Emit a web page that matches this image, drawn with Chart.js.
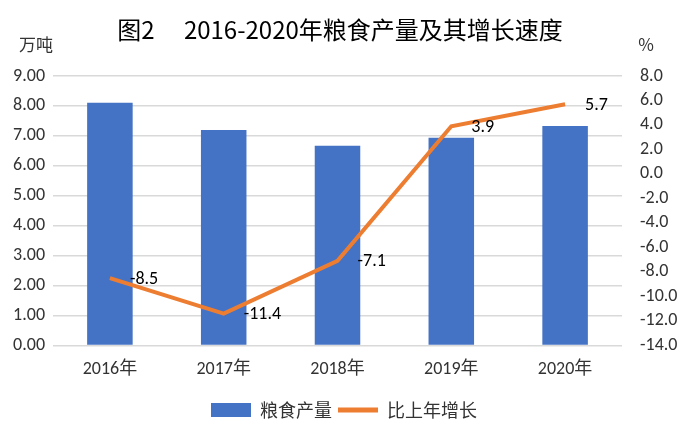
<!DOCTYPE html>
<html>
<head>
<meta charset="utf-8">
<script src="https://cdn.jsdelivr.net/npm/chart.js@4/dist/chart.umd.min.js"></script>
<style>
  html, body { margin: 0; padding: 0; background: #fff; }
  #wrap { width: 682px; height: 444px; position: relative; }
</style>
</head>
<body>
<div id="wrap"><canvas id="grafica"></canvas></div>
<script>
// Datos
const years = ["2016年", "2017年", "2018年", "2019年", "2020年"];
const output = [8.11, 7.20, 6.67, 6.94, 7.33];      // 粮食产量（万吨）
const growth = [-8.5, -11.4, -7.1, 3.9, 5.7];      // 比上年增长（%）

const FONT = '"Carlito", "Liberation Sans Narrow", "Noto Sans CJK SC", sans-serif';
const CJK = '"Noto Sans CJK SC", sans-serif';

// Título, unidades de los ejes y etiquetas de la línea
const extras = {
  id: 'extras',
  afterDraw(chart) {
    const ctx = chart.ctx;
    ctx.save();
    ctx.fillStyle = '#000';
    ctx.textBaseline = 'middle';
    ctx.textAlign = 'center';
    ctx.font = '24px ' + CJK;
    ctx.fillText('图2\u3000 2016-2020年粮食产量及其增长速度', 340, 30);
    ctx.font = '17px ' + CJK;
    ctx.fillStyle = '#333';
    ctx.fillText('万吨', 36, 45);
    ctx.fillText('%', 646, 45);
    // etiquetas de la serie de crecimiento
    const meta = chart.getDatasetMeta(1);
    ctx.font = '18px ' + FONT;
    ctx.fillStyle = '#000';
    ctx.textAlign = 'left';
    meta.data.forEach((pt, i) => {
      ctx.fillText(growth[i].toFixed(1), pt.x + 20, pt.y + 1);
    });
    ctx.restore();
  }
};

new Chart(document.getElementById('grafica'), {
  type: 'bar',
  data: {
    labels: years,
    datasets: [{
      label: '粮食产量',
      data: output,
      backgroundColor: '#4472C4',
      yAxisID: 'y',
      categoryPercentage: 1,
      barPercentage: 0.4,
      order: 2
    }, {
      type: 'line',
      label: '比上年增长',
      data: growth,
      borderColor: '#ED7D31',
      backgroundColor: '#ED7D31',
      borderWidth: 4,
      pointRadius: 0,
      tension: 0,
      yAxisID: 'y1',
      order: 1
    }]
  },
  options: {
    responsive: true,
    maintainAspectRatio: false,
    animation: false,
    layout: { padding: { top: 76, left: 6, right: 0, bottom: 15 } },
    plugins: {
      title: { display: false },
      tooltip: { enabled: false },
      legend: {
        position: 'bottom',
        labels: {
          usePointStyle: true,
          pointStyleWidth: 40,
          boxHeight: 14,
          boxWidth: 40,
          padding: 6,
          color: '#333',
          font: { family: CJK, size: 18 },
          sort: (a, b) => a.datasetIndex - b.datasetIndex,
          generateLabels(chart) {
            return chart.data.datasets.map((ds, i) => ({
              text: ds.label,
              fillStyle: ds.backgroundColor,
              strokeStyle: i === 0 ? ds.backgroundColor : ds.borderColor,
              lineWidth: i === 0 ? 0 : 5,
              pointStyle: i === 0 ? 'rect' : 'line',
              datasetIndex: i,
              hidden: false,
              fontColor: '#333'
            }));
          }
        }
      }
    },
    scales: {
      x: {
        grid: { display: false },
        border: { display: false },
        afterFit: s => { s.height += 10; },
        ticks: { color: '#333', font: { family: FONT, size: 18 }, padding: 5 }
      },
      y: {
        position: 'left',
        min: 0,
        max: 9,
        afterFit: s => { s.width = 47; },
        ticks: {
          stepSize: 1,
          autoSkip: false,
          padding: 8,
          color: '#333',
          font: { family: FONT, size: 18 },
          callback: v => v.toFixed(2)
        },
        grid: { color: '#D9D9D9', lineWidth: 1.5, drawTicks: false },
        border: { display: false }
      },
      y1: {
        position: 'right',
        min: -14,
        max: 8,
        afterFit: s => { s.width = 60; },
        ticks: {
          stepSize: 2,
          autoSkip: false,
          color: '#333',
          font: { family: FONT, size: 18 },
          padding: 10,
          callback: v => v.toFixed(1)
        },
        grid: { display: false },
        border: { display: false }
      }
    }
  },
  plugins: [extras]
});
</script>
</body>
</html>
